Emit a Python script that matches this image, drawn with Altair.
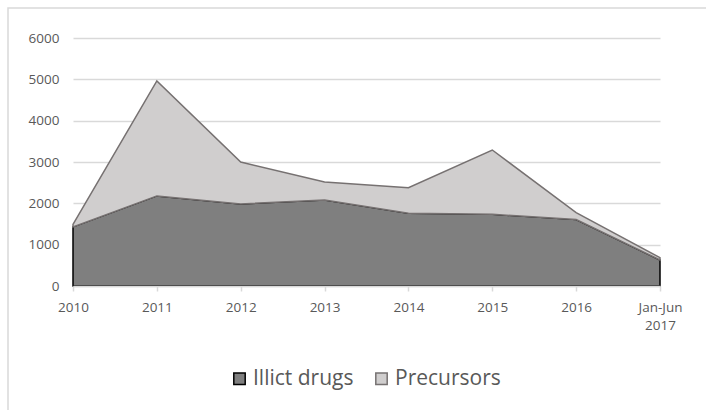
import altair as alt
import pandas as pd

periods = ["2010", "2011", "2012", "2013", "2014", "2015", "2016", "Jan-Jun 2017"]
illicit_drugs = [1430, 2180, 1985, 2080, 1760, 1735, 1610, 630]
precursors = [60, 2780, 1015, 435, 620, 1555, 165, 55]
series_names = ["Illict drugs", "Precursors"]

rows = []
for i, p in enumerate(periods):
    rows.append({"period": p, "series": series_names[0], "value": illicit_drugs[i], "ord": 0})
    rows.append({"period": p, "series": series_names[1], "value": precursors[i], "ord": 1})
df = pd.DataFrame(rows)

FONT = "Open Sans"

area = alt.Chart(df).mark_area(strokeWidth=1.5, opacity=1).encode(
    x=alt.X("period:O", sort=periods, scale=alt.Scale(type="point", padding=0),
            axis=alt.Axis(title=None, labelAngle=0, domainColor="#d9d9d9", domainWidth=1.5,
                          tickColor="#d9d9d9", tickSize=5, tickWidth=1.5, labelPadding=9,
                          labelColor="#595959", labelFontSize=13.5, labelFont=FONT,
                          labelLineHeight=18, zindex=1,
                          labelExpr="datum.value == 'Jan-Jun 2017' ? ['Jan-Jun', '2017'] : datum.value")),
    y=alt.Y("value:Q", stack="zero", scale=alt.Scale(domain=[0, 6000], nice=False),
            axis=alt.Axis(title=None, values=[0, 1000, 2000, 3000, 4000, 5000, 6000], format="d",
                          domain=False, ticks=False, gridColor="#d9d9d9", gridWidth=1.5,
                          labelColor="#595959", labelFontSize=13.5, labelFont=FONT,
                          labelPadding=14)),
    color=alt.Color("series:N", scale=alt.Scale(domain=series_names, range=["#7f7f7f", "#d0cece"]),
                    legend=alt.Legend(title=None, orient="none", direction="horizontal",
                                      legendX=156, legendY=330, symbolType="square",
                                      symbolSize=130, symbolStrokeWidth=1.5,
                                      labelFontSize=21, labelFont=FONT, labelColor="#595959",
                                      columnPadding=17, labelOffset=3, symbolOpacity=1)),
    stroke=alt.Stroke("series:N", scale=alt.Scale(domain=series_names, range=["#000000", "#767171"]),
                      legend=None),
    order=alt.Order("ord:Q"),
)

frame = alt.Chart(pd.DataFrame({"a": [0]})).mark_rect(
    fill="white", fillOpacity=0, stroke="#d9d9d9", strokeWidth=1.5
).encode(
    x=alt.value(-65), x2=alt.value(660), y=alt.value(-30), y2=alt.value(400)
)

chart = alt.layer(frame, area).properties(
    width=587, height=248,
    autosize=alt.AutoSizeParams(type="none"),
    padding={"left": 73, "top": 38, "right": 46, "bottom": 124},
    background="white",
).configure_view(stroke=None)

chart.save("out.html", embed_options={"renderer": "svg", "actions": False})
